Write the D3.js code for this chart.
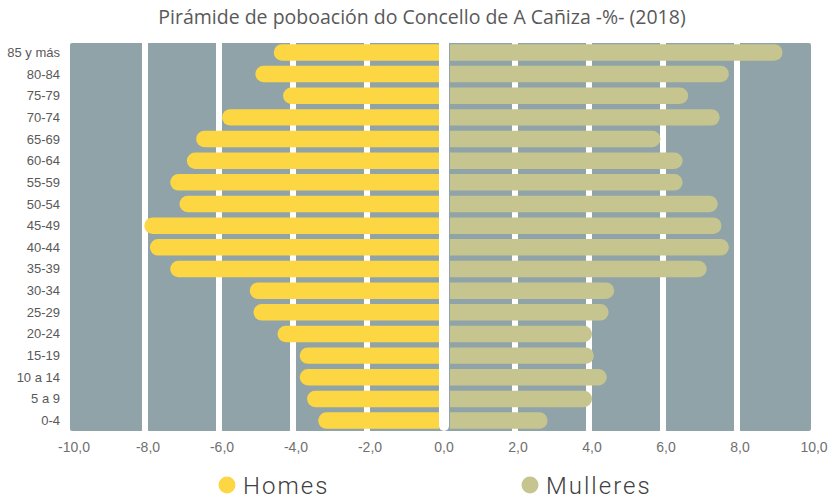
<!DOCTYPE html>
<html>
<head>
<meta charset="utf-8">
<script src="https://cdn.jsdelivr.net/npm/d3@7"></script>
<style>
body { margin: 0; background: #fff; }
svg { display: block; }
</style>
</head>
<body>
<svg width="837" height="498"></svg>
<script>
// grupos de idade, de arriba abaixo
var ageGroups = ["85 y más", "80-84", "75-79", "70-74", "65-69", "60-64", "55-59", "50-54", "45-49",
  "40-44", "35-39", "30-34", "25-29", "20-24", "15-19", "10 a 14", "5 a 9", "0-4"];
// homes en negativo (lado esquerdo)
var homes = [-4.6, -5.1, -4.35, -6.0, -6.7, -6.95, -7.4, -7.15, -8.1,
  -7.95, -7.4, -5.25, -5.15, -4.5, -3.9, -3.9, -3.7, -3.4];
var mulleres = [9.15, 7.7, 6.6, 7.45, 5.85, 6.45, 6.45, 7.4, 7.5,
  7.7, 7.1, 4.6, 4.45, 4.0, 4.05, 4.4, 4.0, 2.8];
var ticks = [-10, -8, -6, -4, -2, 0, 2, 4, 6, 8, 10];
var seriesNames = ["Homes", "Mulleres"];
var colors = {"Homes": "#fdd643", "Mulleres": "#c6c58f"};

var svg = d3.select("svg");
var plotTop = 43, plotBottom = 431;

var x = d3.scaleLinear().domain([-10, 10]).range([74, 814]);
var y = d3.scaleBand().domain(ageGroups).range([plotTop - 1, plotBottom]).paddingInner(0.24).paddingOuter(0.1);

// title
svg.append("text")
  .attr("x", 422).attr("y", 24)
  .attr("text-anchor", "middle")
  .style("font-family", "'Open Sans', sans-serif")
  .style("font-size", "19.5px")
  .style("fill", "#595959")
  .text("Pirámide de poboación do Concello de A Cañiza -%- (2018)");

// fondo gris
svg.append("rect")
  .attr("x", 70).attr("y", plotTop)
  .attr("width", 811 - 70).attr("height", plotBottom - plotTop)
  .attr("rx", 2)
  .attr("fill", "#8fa3a8");

// liñas de grella brancas
svg.append("g").selectAll("line")
  .data(ticks.filter(function(d) { return d != 0 && Math.abs(d) != 10; }))
  .enter().append("line")
  .attr("x1", function(d) { return x(d) - 3; })
  .attr("x2", function(d) { return x(d) - 3; })
  .attr("y1", plotTop).attr("y2", plotBottom)
  .attr("stroke", "#fff").attr("stroke-width", 6);

var h = y.bandwidth(), r = h / 2;
var leftEdge = 439, rightEdge = 450;

function homesPath(v, i) {
  var t = y(ageGroups[i]), xv = x(v);
  return "M" + leftEdge + "," + t + "H" + (xv + r) + "A" + r + "," + r + " 0 0 0 " + (xv + r) + "," + (t + h) + "H" + leftEdge + "Z";
}
function mulleresPath(v, i) {
  var t = y(ageGroups[i]), xv = x(v);
  return "M" + rightEdge + "," + t + "H" + (xv - r) + "A" + r + "," + r + " 0 0 1 " + (xv - r) + "," + (t + h) + "H" + rightEdge + "Z";
}

svg.append("g").selectAll("path")
  .data(homes)
  .enter().append("path")
  .attr("d", homesPath)
  .attr("fill", colors.Homes);

svg.append("g").selectAll("path")
  .data(mulleres)
  .enter().append("path")
  .attr("d", mulleresPath)
  .attr("fill", colors.Mulleres);

// eixo central
svg.append("line")
  .attr("x1", x(0)).attr("x2", x(0))
  .attr("y1", plotTop).attr("y2", plotBottom - 5)
  .attr("stroke", "#fff").attr("stroke-width", 10)
  .attr("stroke-linecap", "round");

// etiquetas de idade
svg.append("g").selectAll("text")
  .data(ageGroups)
  .enter().append("text")
  .attr("x", 60)
  .attr("y", function(d) { return y(d) + h / 2 + 4.5; })
  .attr("text-anchor", "end")
  .style("font-family", "'Liberation Sans', Arial, sans-serif")
  .style("font-size", "13px")
  .style("fill", "#595959")
  .text(function(d) { return d; });

// etiquetas do eixo x
svg.append("g").selectAll("text")
  .data(ticks)
  .enter().append("text")
  .attr("x", function(d) { return x(d); })
  .attr("y", 452)
  .attr("text-anchor", "middle")
  .style("font-family", "'Liberation Sans', Arial, sans-serif")
  .style("font-size", "14px")
  .style("fill", "#707070")
  .text(function(d) { return d3.format(".1f")(d).replace(".", ",").replace("−", "-"); });

// lenda
var legendX = {"Homes": 227, "Mulleres": 530};
var legend = svg.append("g").selectAll("g")
  .data(seriesNames)
  .enter().append("g")
  .attr("transform", function(d) { return "translate(" + legendX[d] + ",485)"; });
legend.append("circle")
  .attr("r", 8.5)
  .attr("fill", function(d) { return colors[d]; });
legend.append("text")
  .attr("x", 16).attr("y", 8.5)
  .style("font-family", "Roboto, sans-serif")
  .style("font-weight", "300")
  .style("font-size", "24px")
  .style("letter-spacing", "2px")
  .style("fill", "#404040")
  .text(function(d) { return d; });
</script>
</body>
</html>
